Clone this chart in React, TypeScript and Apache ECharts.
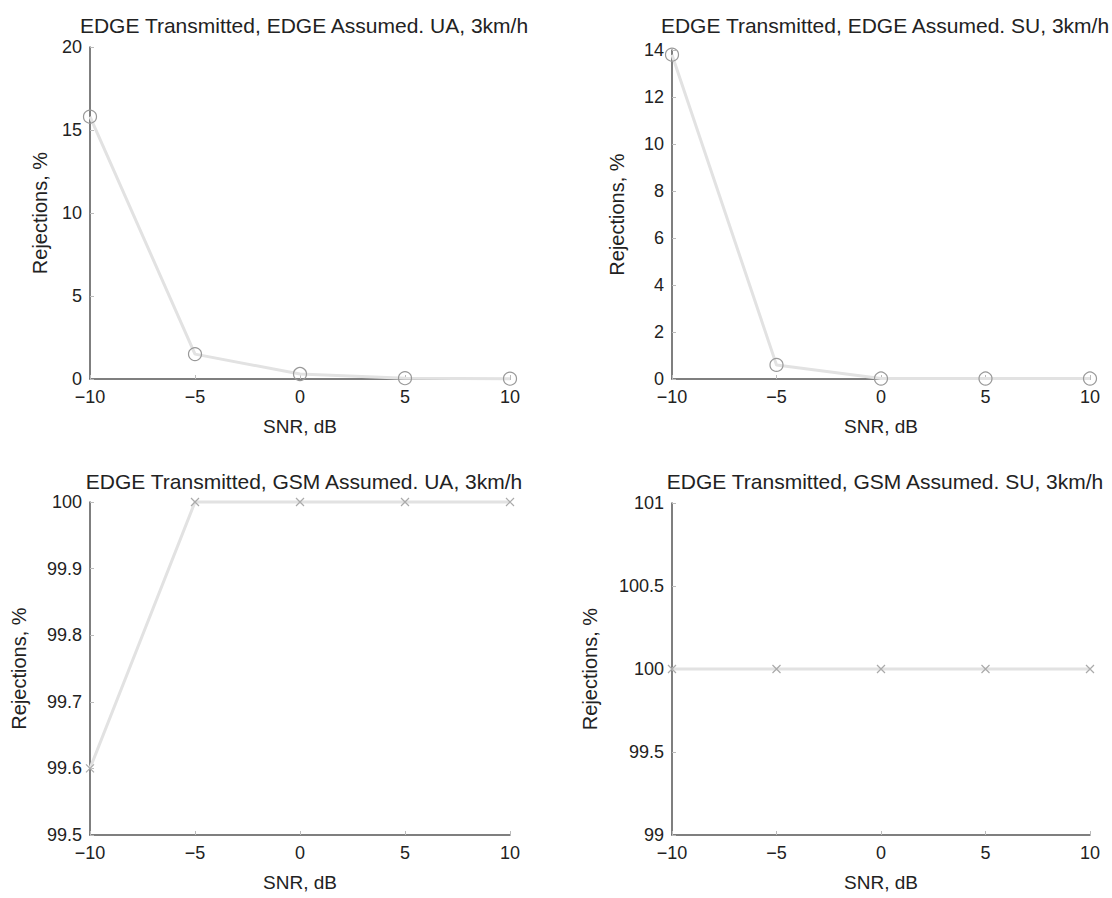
import React, { useEffect, useRef } from "react";
import * as echarts from "echarts";

const snr = [-10, -5, 0, 5, 10];
const edgeUA = [15.8, 1.5, 0.3, 0.05, 0.02];
const edgeSU = [13.8, 0.6, 0.02, 0.02, 0.02];
const gsmUA = [99.6, 100, 100, 100, 100];
const gsmSU = [100, 100, 100, 100, 100];

const titles = [
  "EDGE Transmitted, EDGE Assumed. UA, 3km/h",
  "EDGE Transmitted, EDGE Assumed. SU, 3km/h",
  "EDGE Transmitted, GSM Assumed. UA, 3km/h",
  "EDGE Transmitted, GSM Assumed. SU, 3km/h",
];
const yRanges = [
  { min: 0, max: 20, interval: 5 },
  { min: 0, max: 14, interval: 2 },
  { min: 99.5, max: 100, interval: 0.1 },
  { min: 99, max: 101, interval: 0.5 },
];
const xLabel = "SNR, dB";
const yLabel = "Rejections, %";

const FONT = "Liberation Sans, Arial, Helvetica, sans-serif";
const TXT = "#222";
const AX = "#555";

export default function App() {
  const ref = useRef<HTMLDivElement>(null);
  useEffect(() => {
    document.body.style.margin = "0";
    const chart = echarts.init(ref.current!, null, { renderer: "svg" });
    const grids = [
      { left: 90, top: 47, width: 420, height: 332 },
      { left: 672, top: 50, width: 418, height: 329 },
      { left: 90, top: 502, width: 420, height: 333 },
      { left: 672, top: 503, width: 418, height: 332 },
    ];
    const titleCenters = [299, 880, 299, 880];
    const titleTops = [10, 10, 466, 466];
    const yNameGaps = [40, 45, 61, 72];
    const xMarker = "path://M0,0L10,10M10,0L0,10";
    const seriesData = [edgeUA, edgeSU, gsmUA, gsmSU];
    const option: any = {
      animation: false,
      backgroundColor: "#fff",
      title: titles.map((t, i) => ({
        text: t,
        left: titleCenters[i],
        top: titleTops[i],
        textAlign: "center",
        textStyle: { fontFamily: FONT, fontSize: 21, fontWeight: "normal", color: TXT },
      })),
      grid: grids.map((g) => ({ ...g, containLabel: false })),
      xAxis: grids.map((_, i) => ({
        type: "value",
        gridIndex: i,
        min: -10,
        max: 10,
        interval: 5,
        name: xLabel,
        nameLocation: "middle",
        nameGap: 38,
        nameTextStyle: { fontFamily: FONT, fontSize: 19, color: TXT },
        axisLine: { show: true, onZero: false, lineStyle: { color: AX, width: 1.5 } },
        axisTick: { show: true, inside: true, length: 4, lineStyle: { color: "#bbb" } },
        axisLabel: {
          fontFamily: FONT,
          fontSize: 18,
          lineHeight: 16,
          color: TXT,
          margin: 10,
          formatter: (v: number) => (v < 0 ? "\u2212" + Math.abs(v) : String(v)),
        },
        splitLine: { show: false },
      })),
      yAxis: grids.map((_, i) => ({
        type: "value",
        gridIndex: i,
        min: yRanges[i].min,
        max: yRanges[i].max,
        interval: yRanges[i].interval,
        name: yLabel,
        nameLocation: "middle",
        nameGap: yNameGaps[i],
        nameTextStyle: { fontFamily: FONT, fontSize: 20, color: TXT },
        axisLine: { show: true, onZero: false, lineStyle: { color: AX, width: 1.5 } },
        axisTick: { show: true, inside: true, length: 4, lineStyle: { color: "#bbb" } },
        axisLabel: { fontFamily: FONT, fontSize: 18, lineHeight: 16, color: TXT, margin: 8 },
        splitLine: { show: false },
      })),
      series: seriesData.map((d, i) => ({
        type: "line",
        xAxisIndex: i,
        yAxisIndex: i,
        data: snr.map((x, j) => [x, d[j]]),
        clip: false,
        symbol: i < 2 ? "circle" : xMarker,
        symbolSize: i < 2 ? 13 : 8,
        lineStyle: { color: "#e2e2e2", width: 3 },
        itemStyle: i < 2
          ? { color: "rgba(255,255,255,0)", borderColor: "#999", borderWidth: 1.2 }
          : { color: "#aaa", borderColor: "#aaa", borderWidth: 1.2 },
        z: 3,
      })),
    };
    chart.setOption(option);
    return () => chart.dispose();
  }, []);
  return <div ref={ref} style={{ width: 1112, height: 898 }} />;
}
